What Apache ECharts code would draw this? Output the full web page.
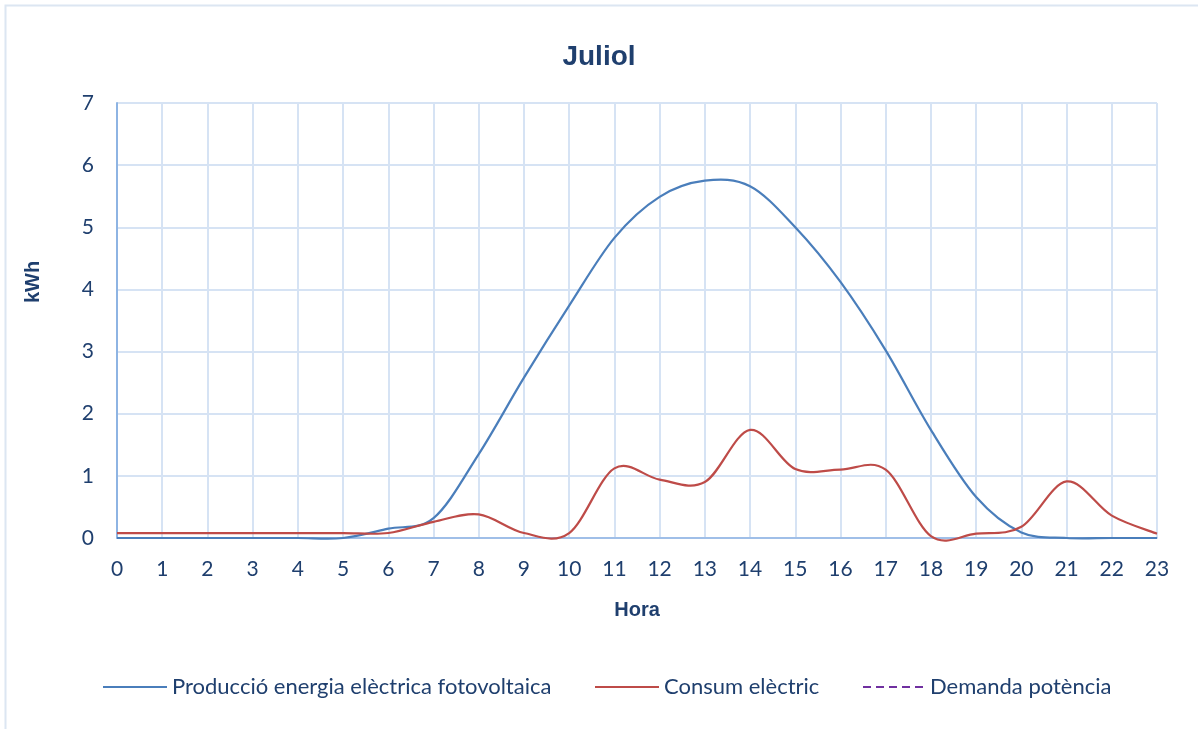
<!DOCTYPE html>
<html>
<head>
<meta charset="utf-8">
<script src="https://cdn.jsdelivr.net/npm/echarts@6/dist/echarts.min.js"></script>
<style>
  html, body { margin: 0; padding: 0; background: #fff; }
  #chart { width: 1198px; height: 729px; }
</style>
</head>
<body>
<div id="chart"></div>
<script>
// Hourly profile for July (kWh per hour)
const hours = ['0','1','2','3','4','5','6','7','8','9','10','11','12','13','14','15','16','17','18','19','20','21','22','23'];
const produccio = [0, 0, 0, 0, 0, 0, 0.15, 0.32, 1.35, 2.58, 3.74, 4.83, 5.49, 5.75, 5.66, 5.0, 4.12, 3.02, 1.74, 0.66, 0.09, 0, 0, 0];
const consum = [0.08, 0.08, 0.08, 0.08, 0.08, 0.08, 0.08, 0.26, 0.38, 0.08, 0.08, 1.12, 0.94, 0.9, 1.74, 1.11, 1.1, 1.1, 0.03, 0.07, 0.18, 0.91, 0.36, 0.07];
const demanda = [];
const yTicks = [0, 1, 2, 3, 4, 5, 6, 7];

const NAME_PROD = 'Producció energia elèctrica fotovoltaica';
const NAME_CONS = 'Consum elèctric';
const NAME_DEM = 'Demanda potència';

const textColor = '#1F3F6E';
const gridColor = '#D6E3F4';
const bodyFont = 'Lato, "Open Sans", sans-serif';
const headFont = '"Liberation Sans", Arial, sans-serif';

// Smooth curve through the points (Catmull-Rom spline as cubic Béziers),
// with every point placed by the chart's own axes via api.coord.
function splineSeries(name, values, color, width, z) {
  return {
    name: name,
    type: 'custom',
    coordinateSystem: 'cartesian2d',
    data: values.map((v, i) => [i, v]),
    encode: { x: 0, y: 1 },
    itemStyle: { color: color },
    z: z,
    clip: false,
    renderItem: function (params, api) {
      if (params.dataIndex !== 0) return null;
      const pts = values.map((v, i) => api.coord([i, v]));
      const n = pts.length;
      let d = 'M' + pts[0][0] + ',' + pts[0][1];
      for (let i = 0; i < n - 1; i++) {
        const p0 = pts[Math.max(i - 1, 0)];
        const p1 = pts[i];
        const p2 = pts[i + 1];
        const p3 = pts[Math.min(i + 2, n - 1)];
        const c1x = p1[0] + (p2[0] - p0[0]) / 6;
        const c1y = p1[1] + (p2[1] - p0[1]) / 6;
        const c2x = p2[0] - (p3[0] - p1[0]) / 6;
        const c2y = p2[1] - (p3[1] - p1[1]) / 6;
        d += ' C' + c1x + ',' + c1y + ' ' + c2x + ',' + c2y + ' ' + p2[0] + ',' + p2[1];
      }
      return {
        type: 'path',
        shape: { pathData: d },
        style: { fill: 'none', stroke: color, lineWidth: width }
      };
    }
  };
}

function legendAt(left, name, icon, color) {
  return {
    left: left,
    top: 671,
    itemWidth: 64,
    itemHeight: 2,
    itemGap: 0,
    selectedMode: false,
    textStyle: { color: textColor, fontSize: 22, fontFamily: bodyFont, padding: [0, 0, 0, 0] },
    data: [{ name: name, icon: icon, itemStyle: { color: color } }]
  };
}

const dashIcon = 'path://M0,0h8v2h-8z M13,0h8v2h-8z M26,0h8v2h-8z M39,0h8v2h-8z M52,0h8v2h-8z';

const chart = echarts.init(document.getElementById('chart'));
chart.setOption({
  animation: false,
  backgroundColor: '#fff',
  graphic: [
    {
      type: 'rect',
      shape: { x: 5.5, y: 5.5, width: 1220, height: 760 },
      style: { fill: 'none', stroke: '#DCE6F2', lineWidth: 2 },
      silent: true
    },
    {
      // value-axis title
      type: 'text',
      x: 33,
      y: 282,
      rotation: Math.PI / 2,
      style: {
        text: 'kWh',
        fill: textColor,
        font: 'bold 20px ' + headFont,
        align: 'center',
        verticalAlign: 'middle'
      },
      silent: true
    }
  ],
  title: {
    text: 'Juliol',
    left: 'center',
    top: 38,
    textStyle: { color: textColor, fontSize: 28, fontWeight: 'bold', fontFamily: headFont }
  },
  grid: { left: 117, right: 41, top: 103, bottom: 191, containLabel: false },
  legend: [
    legendAt(98, NAME_PROD, 'rect', '#4A7EBB'),
    legendAt(590, NAME_CONS, 'rect', '#BE4B48'),
    legendAt(858, NAME_DEM, dashIcon, '#7030A0')
  ],
  xAxis: {
    type: 'category',
    data: hours,
    boundaryGap: false,
    name: 'Hora',
    nameLocation: 'middle',
    nameGap: 62,
    nameTextStyle: { color: textColor, fontSize: 20, fontWeight: 'bold', fontFamily: headFont },
    axisLine: { lineStyle: { color: '#8EB4E3', width: 1.5 } },
    axisTick: { show: false },
    axisLabel: { color: textColor, fontSize: 21, fontFamily: bodyFont, margin: 21 },
    splitLine: { show: true, lineStyle: { color: gridColor, width: 2 } }
  },
  yAxis: {
    type: 'value',
    min: yTicks[0],
    max: yTicks[yTicks.length - 1],
    interval: 1,
    axisLine: { show: true, lineStyle: { color: '#8EB4E3', width: 2 } },
    axisTick: { show: false },
    axisLabel: { color: textColor, fontSize: 21, fontFamily: bodyFont, margin: 23 },
    splitLine: { show: true, lineStyle: { color: gridColor, width: 2 } }
  },
  series: [
    splineSeries(NAME_PROD, produccio, '#4A7EBB', 2.2, 3),
    splineSeries(NAME_CONS, consum, '#BE4B48', 2.2, 4),
    {
      name: NAME_DEM,
      type: 'line',
      data: demanda,
      showSymbol: false,
      lineStyle: { color: '#7030A0', width: 2, type: [5, 4] },
      itemStyle: { color: '#7030A0' }
    }
  ]
});
</script>
</body>
</html>
